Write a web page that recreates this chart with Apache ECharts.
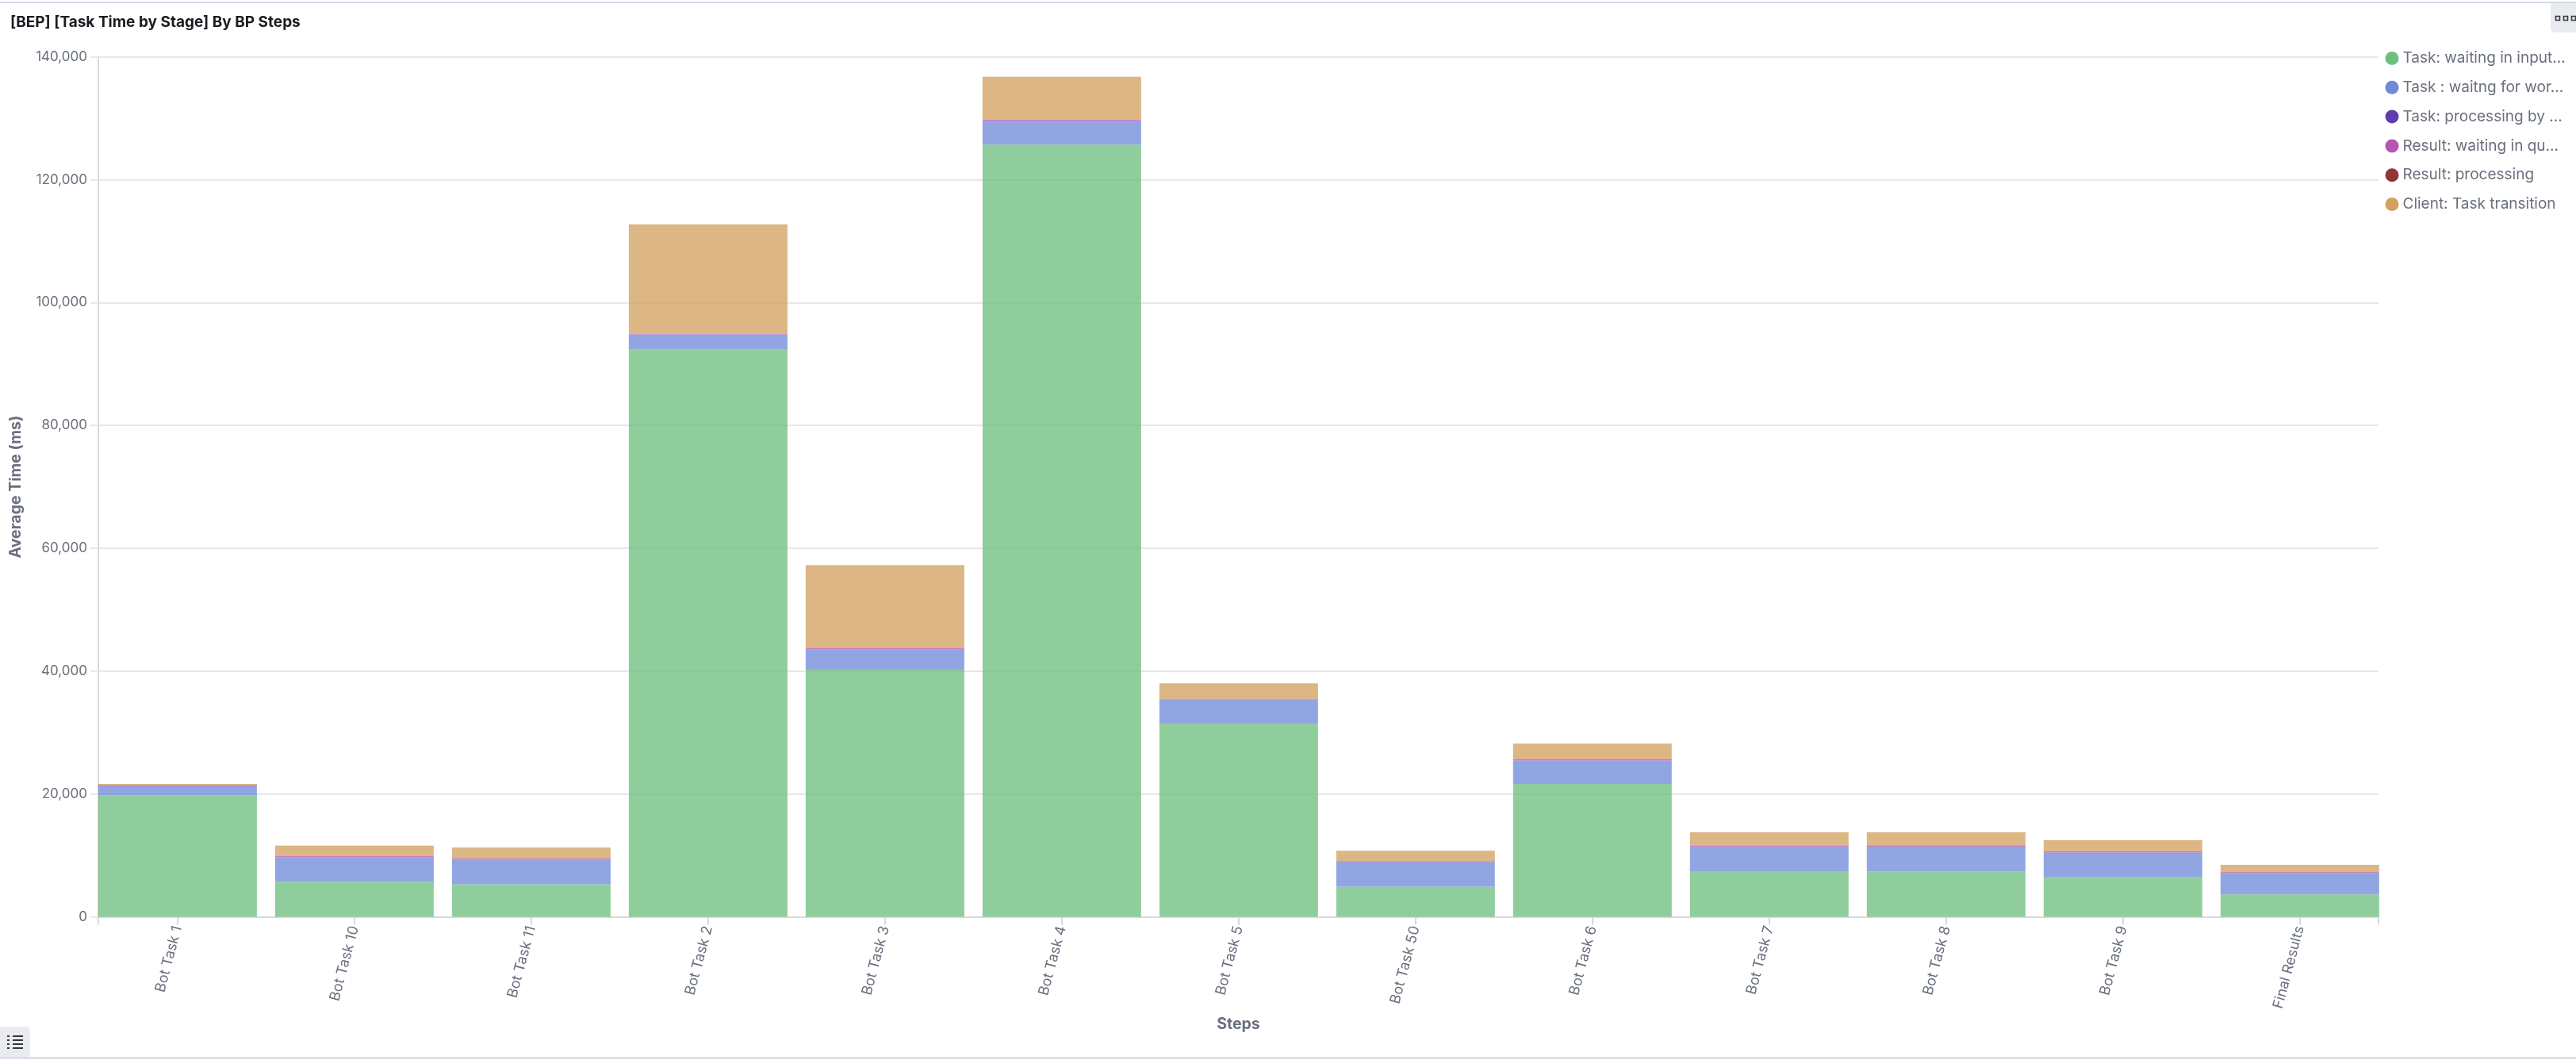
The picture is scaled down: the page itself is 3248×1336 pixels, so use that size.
<!DOCTYPE html>
<html>
<head>
<meta charset="utf-8">
<style>html,body{margin:0;padding:0;background:#fff}#c{width:3248px;height:1336px}</style>
<script src="https://cdn.jsdelivr.net/npm/echarts@6/dist/echarts.min.js"></script>
</head>
<body>
<div id="c"></div>
<script>
const categories = ["Bot Task 1","Bot Task 10","Bot Task 11","Bot Task 2","Bot Task 3","Bot Task 4","Bot Task 5","Bot Task 50","Bot Task 6","Bot Task 7","Bot Task 8","Bot Task 9","Final Results"];
const taskWaitingInput = [19780,5680,5290,92350,40250,125730,31460,4910,21640,7430,7390,6430,3640];
const taskWaitingWorker = [1420,4000,4000,2450,3270,3790,3960,3980,3790,3960,4000,4010,3440];
const taskProcessing = [90,20,20,20,30,30,20,20,30,20,30,30,20];
const resultWaiting = [150,190,190,80,170,220,50,150,220,140,220,200,180];
const resultProcessing = [20,10,10,10,10,10,10,10,10,10,10,10,10];
const clientTransition = [170,1680,1770,17820,13530,6980,2510,1680,2500,2200,2110,1770,1160];
const seriesNames = ["Task: waiting in input...","Task : waitng for wor...","Task: processing by ...","Result: waiting in qu...","Result: processing","Client: Task transition"];
const seriesValues = [taskWaitingInput,taskWaitingWorker,taskProcessing,resultWaiting,resultProcessing,clientTransition];
const seriesColors = ["#6DBF7E","#6E8AD8","#5F3DB0","#B356B3","#933535","#D2A060"];
const yTicks = {max:140000, interval:20000};
const FONT = 'Inter, sans-serif', GREY = '#69707D', AXIS = '#D9D9D9', GRID = '#E8E8EA';

const chart = echarts.init(document.getElementById('c'), null, {renderer:'canvas', width:3248, height:1336});
const catIdx = categories.map((_, i) => i);
const rect = (x,y,w,h,fill,r) => ({type:'rect', silent:true, shape:{x,y,width:w,height:h,r:r||0}, style:{fill}});
const sq = x => ({type:'rect', silent:true, shape:{x,y:20.5,width:5,height:5}, style:{fill:'none',stroke:'#343741',lineWidth:1.6}});
chart.setOption({
  animation:false,
  backgroundColor:'#fff',
  textStyle:{fontFamily:FONT},
  title:{text:'[BEP] [Task Time by Stage] By BP Steps', left:8, top:12, textStyle:{fontFamily:FONT,fontSize:19,fontWeight:700,color:'#1A1C21',lineHeight:22}},
  legend:{
    orient:'vertical', left:3007.5, top:64, padding:0, icon:'circle', itemWidth:17, itemHeight:17, itemGap:17.8,
    itemStyle:{opacity:1}, selectedMode:false,
    textStyle:{fontFamily:FONT,fontSize:19,color:GREY},
    data:seriesNames
  },
  grid:{left:124, right:249, top:71.7, bottom:1336-1155.5, containLabel:false, outerBoundsMode:'none'},
  xAxis:{
    type:'value', min:-0.448, max:12.445, name:'Steps', nameLocation:'middle', nameGap:122,
    nameTextStyle:{fontFamily:FONT,fontSize:19.5,fontWeight:700,color:GREY},
    axisLine:{show:true,onZero:false,lineStyle:{color:AXIS,width:2}},
    axisTick:{show:true,length:10,lineStyle:{color:AXIS,width:2},customValues:[-0.448].concat(catIdx,[12.445])},
    splitLine:{show:false},
    axisLabel:{customValues:catIdx, rotate:75, margin:12, fontFamily:FONT, fontSize:18, color:GREY, formatter:v => categories[v]}
  },
  yAxis:{
    type:'value', min:0, max:yTicks.max, interval:yTicks.interval, name:'Average Time (ms)', nameLocation:'middle', nameGap:94, nameRotate:90,
    nameTextStyle:{fontFamily:FONT,fontSize:19.5,fontWeight:700,color:GREY},
    axisLine:{show:true,onZero:false,lineStyle:{color:AXIS,width:2}},
    axisTick:{show:true,length:10,lineStyle:{color:GRID,width:2}},
    splitLine:{show:true,lineStyle:{color:GRID,width:2}},
    axisLabel:{margin:14,fontFamily:FONT,fontSize:17,color:GREY,formatter:v => v.toLocaleString('en-US')}
  },
  series:seriesNames.map((name,s) => ({
    name, type:'bar', stack:'total', barWidth:200,
    encode:{x:1, y:0},
    itemStyle:{color:seriesColors[s], opacity:0.77},
    data:catIdx.map(i => [seriesValues[s][i], i])
  })),
  graphic:{elements:[
    rect(0,2,3248,2,'#D3DAE6'),
    rect(0,1332,3248,3,'#DCE1EB'),
    rect(3216,4,32,37,'#E9EBEF',[0,0,0,6]),
    sq(3222.5), sq(3232.5), sq(3242.5),
    rect(0,1294,38,38,'#E9EBEF',[0,6,0,0]),
    rect(9,1305,3,2,'#343741'), rect(16,1305,13,2,'#343741'),
    rect(9,1310,3,2,'#343741'), rect(16,1310,13,2,'#343741'),
    rect(9,1315,3,2,'#343741'), rect(16,1315,13,2,'#343741'),
    rect(9,1320,3,2,'#343741'), rect(16,1320,13,2,'#343741')
  ]}
});
</script>
</body>
</html>
